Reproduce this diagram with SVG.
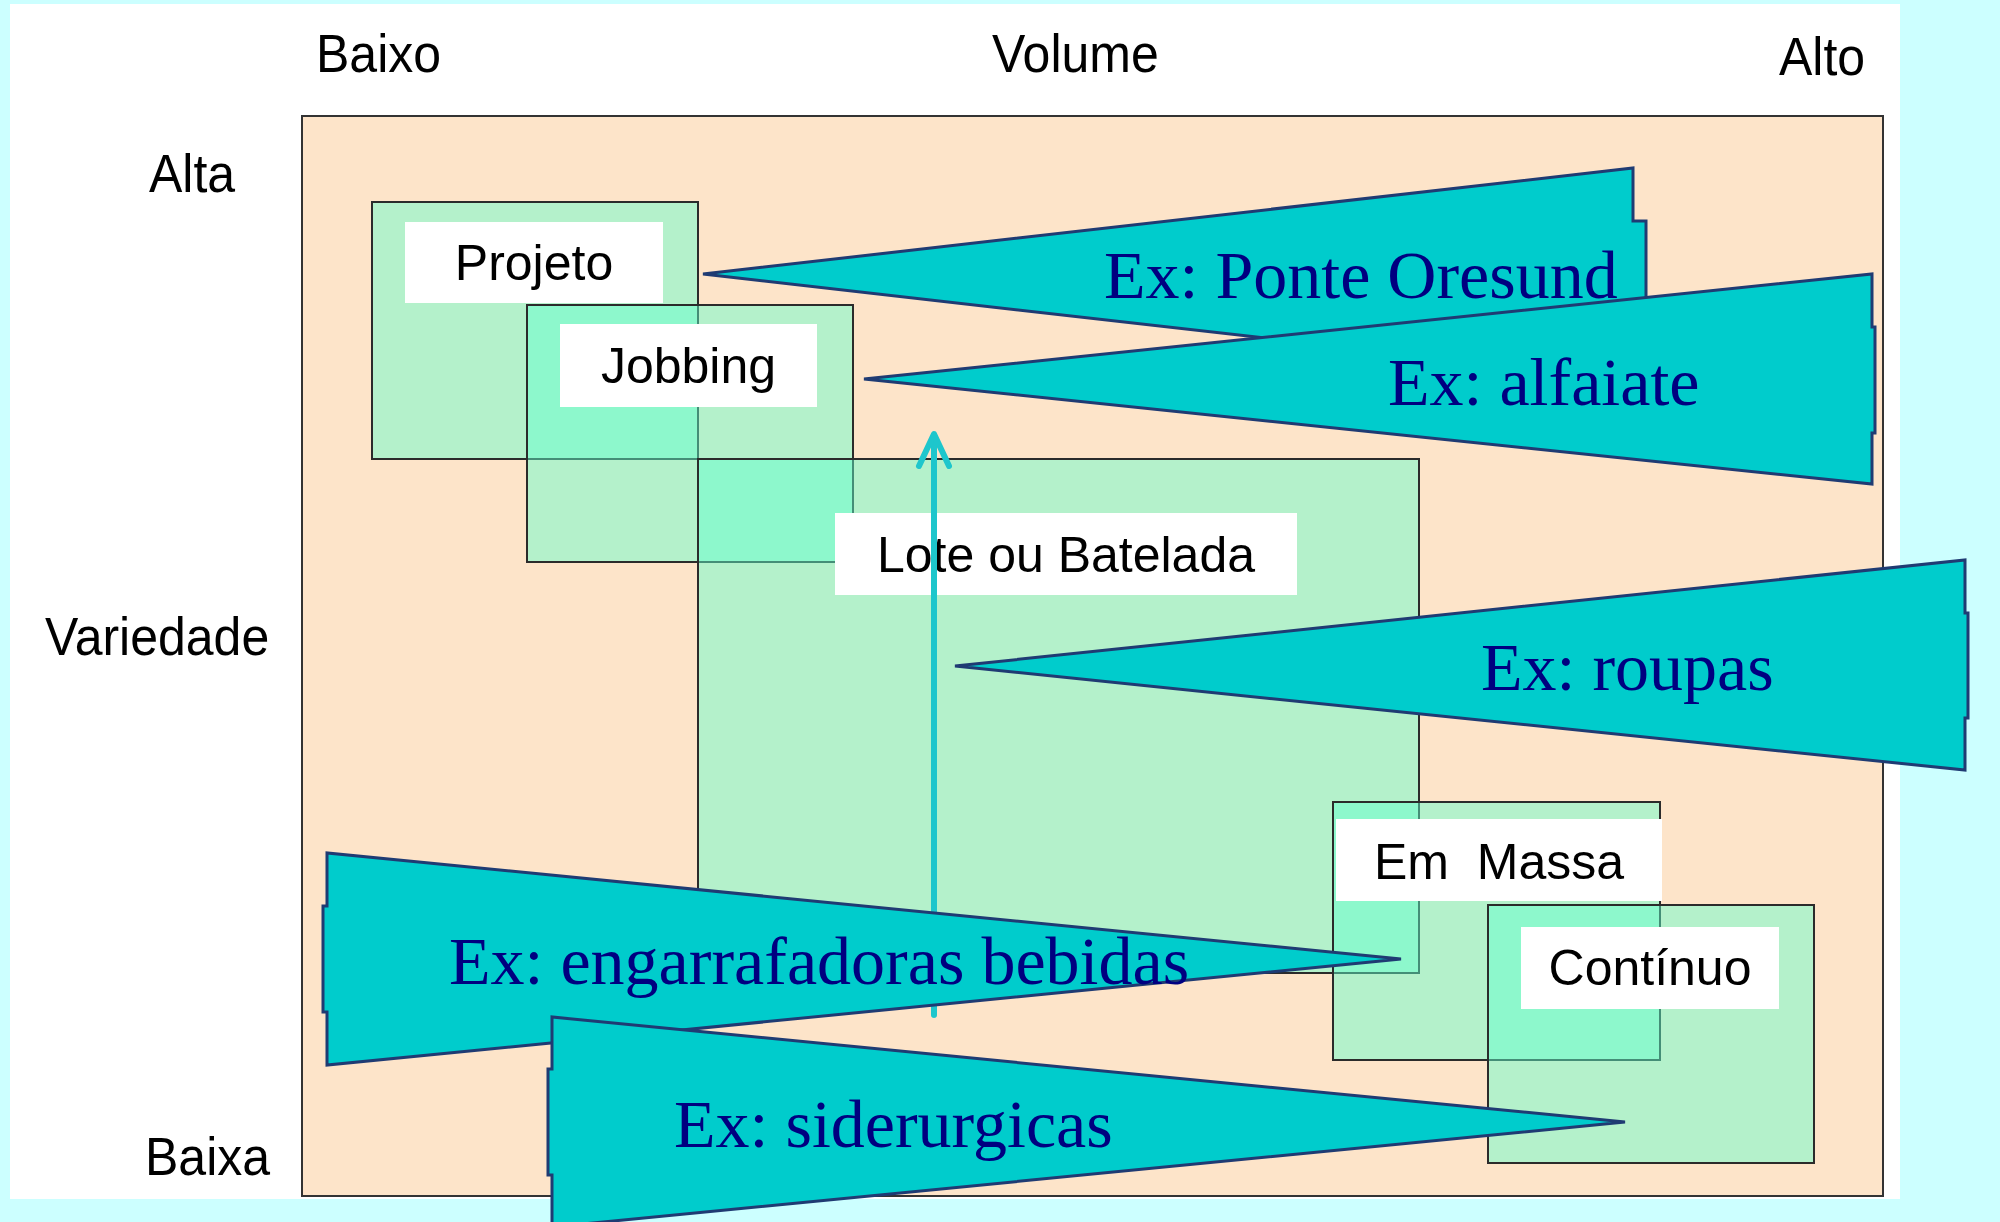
<svg xmlns="http://www.w3.org/2000/svg" width="2000" height="1222" viewBox="0 0 2000 1222">
<style>
.ax{font-family:"Liberation Sans",Arial,sans-serif;font-size:50px;fill:#000}
.lbl{font-family:"Liberation Sans",Arial,sans-serif;font-size:50px;fill:#000;text-anchor:middle}
.ex{font-family:"Liberation Serif","Times New Roman",serif;font-size:68px;fill:#000080}
.box{fill:rgb(97,255,207);fill-opacity:0.47;stroke:#2b2b2b;stroke-width:2}
.lab{fill:#fff}
.tri{fill:#00CCCC;stroke:#1F3B73;stroke-width:3;stroke-linejoin:miter}
.arr{fill:none;stroke:#1EC6CC;stroke-width:6;stroke-linecap:round;stroke-linejoin:round}
</style>
<rect x="0" y="0" width="2000" height="1222" fill="#CCFFFF"/>
<rect x="10" y="4" width="1890" height="1195" fill="#FFFFFF"/>
<rect id="chart" x="302" y="116" width="1581" height="1080" fill="#FDE4C9" stroke="#333" stroke-width="2"/>
<g id="axes">
<text class="ax" transform="translate(316,72) scale(1,1.07)">Baixo</text>
<text class="ax" transform="translate(992,72) scale(1,1.07)">Volume</text>
<text class="ax" transform="translate(1779,75) scale(1,1.07)">Alto</text>
<text class="ax" transform="translate(149,192) scale(1,1.07)">Alta</text>
<text class="ax" transform="translate(45,655) scale(1,1.07)">Variedade</text>
<text class="ax" transform="translate(145,1175) scale(1,1.07)">Baixa</text>
</g>
<g id="boxes">
<rect id="box-projeto" class="box" x="372" y="202" width="326" height="257"/>
<rect id="box-jobbing" class="box" x="527" y="305" width="326" height="257"/>
<rect id="box-lote" class="box" x="698" y="459" width="721" height="514"/>
<rect id="box-massa" class="box" x="1333" y="802" width="327" height="258"/>
<rect id="box-continuo" class="box" x="1488" y="905" width="326" height="258"/>
</g>
<g id="node-projeto"><rect class="lab" x="405" y="222" width="258" height="81"/><text class="lbl" x="534" y="280">Projeto</text></g>
<g id="node-jobbing"><rect class="lab" x="560" y="324" width="257" height="83"/><text class="lbl" x="688.5" y="383">Jobbing</text></g>
<g id="node-lote"><rect class="lab" x="835" y="513" width="462" height="82"/><text class="lbl" x="1066" y="572">Lote ou Batelada</text></g>
<g id="node-massa"><rect class="lab" x="1336" y="819" width="326" height="82"/><text class="lbl" x="1499" y="879" xml:space="preserve">Em  Massa</text></g>
<g id="node-continuo"><rect class="lab" x="1521" y="927" width="258" height="82"/><text class="lbl" x="1650" y="985">Contínuo</text></g>
<g id="callout-ponte"><polygon class="tri" points="703,274 1633,168 1633,221 1646,221 1646,327 1633,327 1633,380"/><text class="ex" x="1104" y="298">Ex: Ponte Oresund</text></g>
<g id="callout-alfaiate"><polygon class="tri" points="864,379 1872,274 1872,327 1875,327 1875,433 1872,433 1872,484"/><text class="ex" x="1388" y="405">Ex: alfaiate</text></g>
<g id="callout-roupas"><polygon class="tri" points="955,666 1965,560 1965,613 1968,613 1968,718 1965,718 1965,770"/><text class="ex" x="1481" y="690">Ex: roupas</text></g>
<g id="connectors">
<path class="arr" d="M934,1015 L934,436"/>
<path class="arr" d="M919,466 L934,434 L949,466"/>
</g>
<g id="callout-bebidas"><polygon class="tri" points="1401,959 327,853 327,906 323,906 323,1012 327,1012 327,1065"/><text class="ex" x="449" y="984">Ex: engarrafadoras bebidas</text></g>
<g id="callout-siderurgicas"><polygon class="tri" points="1625,1122 552,1017 552,1069 548,1069 548,1175 552,1175 552,1227"/><text class="ex" x="674" y="1147">Ex: siderurgicas</text></g>
</svg>
